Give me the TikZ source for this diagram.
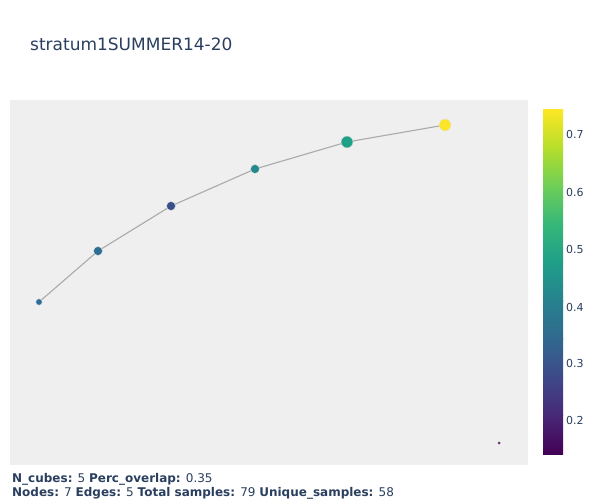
\documentclass[tikz,border=0pt]{standalone}
\usepackage{fontspec}
\setmainfont{DejaVu Sans}
\definecolor{txt}{HTML}{2A3F5F}
\definecolor{plotbg}{HTML}{EFEFEF}
\definecolor{edgec}{HTML}{AAAAAA}
\definecolor{v0}{HTML}{440154}
\definecolor{v1}{HTML}{482878}
\definecolor{v2}{HTML}{3E4989}
\definecolor{v3}{HTML}{31688E}
\definecolor{v4}{HTML}{26828E}
\definecolor{v5}{HTML}{1F9E89}
\definecolor{v6}{HTML}{35B779}
\definecolor{v7}{HTML}{6ECE58}
\definecolor{v8}{HTML}{B5DE2B}
\definecolor{v9}{HTML}{FDE725}
\definecolor{c1}{HTML}{2F6B96}
\definecolor{c2}{HTML}{2C6F94}
\definecolor{c3}{HTML}{3A508B}
\definecolor{c4}{HTML}{23898E}
\definecolor{c5}{HTML}{1FA088}
\definecolor{c6}{HTML}{FAE528}
\definecolor{c7}{HTML}{440154}
\tikzset{
  dot/.style={circle, inner sep=0pt, draw=white!80!gray, line width=0.4pt},
  edge/.style={draw=edgec, line width=1.1pt},
  tick/.style={anchor=west, text=txt, font=\fontsize{11}{13}\selectfont, inner sep=0pt},
}
\begin{document}
\begin{tikzpicture}[x=1pt,y=-1pt]
\useasboundingbox[fill=white] (0,0) rectangle (600,500);
\fill[plotbg] (10,100) rectangle (528,465);
% nodes (positions)
\coordinate (n1) at (39,302);
\coordinate (n2) at (98,251);
\coordinate (n3) at (171,206);
\coordinate (n4) at (255,169);
\coordinate (n5) at (347,142);
\coordinate (n6) at (445,125);
% edges
\draw[edge] (n1) -- (n2) -- (n3) -- (n4) -- (n5) -- (n6);
% markers
\node[dot, fill=c1, minimum size=6.5pt] (m1) at (n1) {};
\node[dot, fill=c2, minimum size=9pt] (m2) at (n2) {};
\node[dot, fill=c3, minimum size=9pt] (m3) at (n3) {};
\node[dot, fill=c4, minimum size=9pt] (m4) at (n4) {};
\node[dot, fill=c5, minimum size=12pt] (m5) at (n5) {};
\node[dot, fill=c6, minimum size=12pt] (m6) at (n6) {};
\node[dot, fill=c7, minimum size=3pt, line width=0.2pt] (m7) at (499,443) {};
% colorbar
\foreach \i [evaluate=\i as \j using int(\i+1)] in {0,...,8} {
  \pgfmathsetmacro{\ytop}{454-(\i+1)*344/9-0.4}
  \pgfmathsetmacro{\ybot}{454-\i*344/9}
  \shade[top color=v\j, bottom color=v\i] (543,\ytop) rectangle (563,\ybot);
}
\node[tick] (t7) at (566,134) {0.7};
\node[tick] (t6) at (566,192) {0.6};
\node[tick] (t5) at (566,249) {0.5};
\node[tick] (t4) at (566,307) {0.4};
\node[tick] (t3) at (566,363) {0.3};
\node[tick] (t2) at (566,420) {0.2};
% title
\node[anchor=west, text=txt, font=\fontsize{17}{20}\selectfont, inner sep=0pt] (title) at (30,44) {stratum1SUMMER14-20};
% footer
\node[anchor=west, text=txt, font=\fontsize{12}{14}\selectfont, inner sep=0pt] (f1) at (12,479) {\textbf{N\_cubes:} 5 \textbf{Perc\_overlap:} 0.35};
\node[anchor=west, text=txt, font=\fontsize{12}{14}\selectfont, inner sep=0pt] (f2) at (12,493) {\textbf{Nodes:} 7 \textbf{Edges:} 5 \textbf{Total samples:} 79 \textbf{Unique\_samples:} 58};
\end{tikzpicture}
\end{document}
